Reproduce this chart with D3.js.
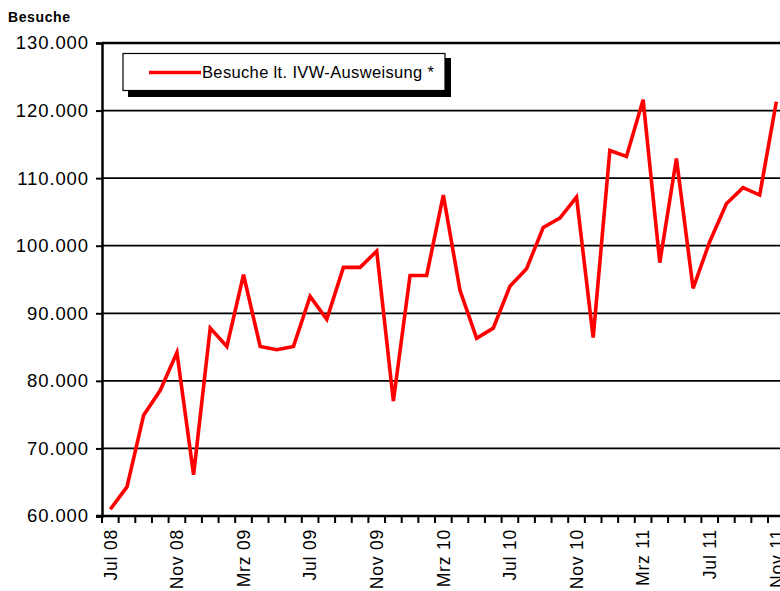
<!DOCTYPE html>
<html>
<head>
<meta charset="utf-8">
<script src="https://cdn.jsdelivr.net/npm/d3@7"></script>
<style>
  body{margin:0;background:#fff;}
  svg{display:block;font-family:Arial,"Liberation Sans",sans-serif;}
</style>
</head>
<body>
<div class="container"></div>
<script>
// Monatsnamen, Besuche lt. IVW (Jul 08 .. Nov 11)
const monthNames=["Jan","Feb","Mrz","Apr","Mai","Jun","Jul","Aug","Sep","Okt","Nov","Dez"];
const months=[];
for(let i=0;i<41;i++){
  let m=(6+i)%12;
  let yr=8+Math.floor((6+i)/12);
  months.push(monthNames[m]+" "+String(yr).padStart(2,"0"));
}

const visits=[
  61.0,64.3,74.9,78.6,84.2,66.1,87.8,85.1,95.7,85.1,84.6,85.1,
  92.5,89.1,96.8,96.8,99.2,77.0,95.6,95.6,107.5,93.4,86.3,87.8,
  94.0,96.6,102.7,104.1,107.2,86.4,114.1,113.2,121.6,97.5,112.9,93.7,
  100.6,106.2,108.6,107.5,121.3
].map(v=>v*1000);

const yTicks=[60000,70000,80000,90000,100000,110000,120000,130000];
const labelEvery=4;

const width=780,height=591;
const plotLeft=102,plotTop=43,plotBottom=516,band=16.65;

const svg=d3.select(".container")
  .append("svg")
  .attr("width",width)
  .attr("height",height);

const x=d3.scaleBand()
  .domain(months)
  .range([plotLeft,plotLeft+band*months.length])
  .padding(0);

const y=d3.scaleLinear()
  .domain([60000,130000])
  .range([plotBottom,plotTop]);

const fmt=d3.formatLocale({decimal:",",thousands:".",grouping:[3],currency:["","€"]}).format(",");

// gridlines
svg.append("g")
  .selectAll("line")
  .data(yTicks)
  .enter()
  .append("line")
  .attr("x1",plotLeft)
  .attr("x2",width)
  .attr("y1",d=>y(d))
  .attr("y2",d=>y(d))
  .attr("stroke","#000")
  .attr("stroke-width",(d,i)=>i==yTicks.length-1?2.4:1.8);

// y axis
const yAxis=svg.append("g")
  .attr("transform",`translate(${plotLeft},0)`)
  .call(d3.axisLeft(y).tickValues(yTicks).tickSize(6).tickPadding(7).tickFormat(fmt));
yAxis.select(".domain").attr("stroke","#000").attr("stroke-width",2.5);
yAxis.selectAll(".tick line").attr("stroke","#000").attr("stroke-width",2);
yAxis.selectAll(".tick text")
  .attr("font-size",18.5)
  .attr("letter-spacing","0.9px")
  .attr("fill","#000")
  .attr("font-family","Arial,'Liberation Sans',sans-serif");

// x axis with ticks between months
const xAxisG=svg.append("g").attr("transform",`translate(0,${plotBottom})`);
xAxisG.append("line")
  .attr("x1",plotLeft-6).attr("x2",width)
  .attr("y1",0).attr("y2",0)
  .attr("stroke","#000").attr("stroke-width",2.5);
const bounds=months.map(m=>x(m)).concat([x(months[months.length-1])+x.bandwidth()]);
xAxisG.selectAll(".xt")
  .data(bounds)
  .enter()
  .append("line")
  .attr("x1",d=>d).attr("x2",d=>d)
  .attr("y1",0).attr("y2",7)
  .attr("stroke","#000").attr("stroke-width",2);

xAxisG.selectAll(".xl")
  .data(months.filter((m,i)=>i%labelEvery==0))
  .enter()
  .append("text")
  .attr("transform",d=>`translate(${x(d)+x.bandwidth()/2},13) rotate(-90)`)
  .attr("text-anchor","end")
  .attr("dy","0.36em")
  .attr("font-size",17.5)
  .attr("letter-spacing","0.8px")
  .attr("fill","#000")
  .text(d=>d);

// line
const line=d3.line()
  .x((d,i)=>x(months[i])+x.bandwidth()/2)
  .y(d=>y(d));

svg.append("path")
  .datum(visits)
  .attr("d",line)
  .attr("fill","none")
  .attr("stroke","#ff0000")
  .attr("stroke-width",3.6)
  .attr("stroke-linejoin","miter");

// title
svg.append("text")
  .attr("x",8)
  .attr("y",22)
  .attr("font-size",14)
  .attr("font-weight","bold")
  .attr("letter-spacing","0.6px")
  .text("Besuche");

// legend
const lg=svg.append("g");
lg.append("rect")
  .attr("x",128).attr("y",58)
  .attr("width",323).attr("height",39)
  .attr("fill","#000");
lg.append("rect")
  .attr("x",123).attr("y",53.5)
  .attr("width",322).attr("height",37)
  .attr("fill","#fff")
  .attr("stroke","#000")
  .attr("stroke-width",1.2);
lg.append("line")
  .attr("x1",149).attr("x2",201)
  .attr("y1",72.5).attr("y2",72.5)
  .attr("stroke","#ff0000")
  .attr("stroke-width",3.6);
lg.append("text")
  .attr("x",202)
  .attr("y",78)
  .attr("font-size",16.5)
  .attr("letter-spacing","0.35px")
  .text("Besuche lt. IVW-Ausweisung *");
</script>
</body>
</html>
